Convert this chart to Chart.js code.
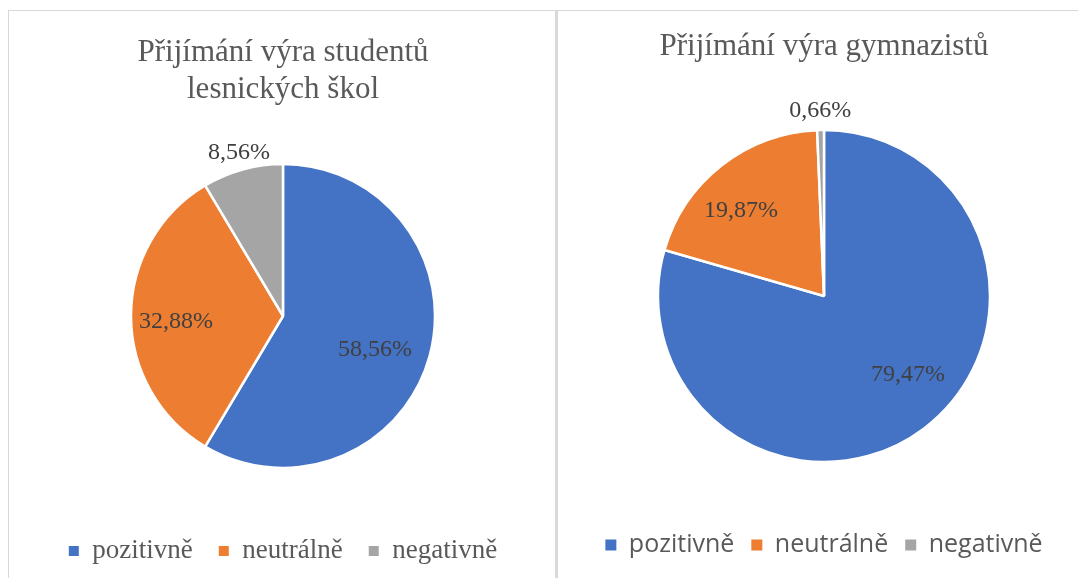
<!DOCTYPE html>
<html>
<head>
<meta charset="utf-8">
<script src="https://cdn.jsdelivr.net/npm/chart.js@4/dist/chart.umd.min.js"></script>
<style>
  html, body { margin: 0; padding: 0; background: #ffffff; }
  #wrap { position: relative; width: 1078px; height: 578px; overflow: hidden; background: #fff; }
  .line { position: absolute; background: #d9d9d9; }
  canvas { position: absolute; }
</style>
</head>
<body>
<div id="wrap">
  <div class="line" style="left:8px; top:10px; width:1070px; height:1px;"></div>
  <div class="line" style="left:8px; top:10px; width:1px; height:568px;"></div>
  <div class="line" style="left:555px; top:10px; width:3px; height:568px;"></div>
  <canvas id="c1" width="546" height="567" style="left:9px; top:11px; width:546px; height:567px;"></canvas>
  <canvas id="c2" width="520" height="567" style="left:558px; top:11px; width:520px; height:567px;"></canvas>
</div>
<script>
const categories = ['pozitivně', 'neutrálně', 'negativně'];
const colors = ['#4472C4', '#ED7D31', '#A5A5A5'];
const titleForestry = ['Přijímání výra studentů', 'lesnických škol'];
const valuesForestry = [58.56, 32.88, 8.56];
const titleGymnasium = 'Přijímání výra gymnazistů';
const valuesGymnasium = [79.47, 19.87, 0.66];

function fmt(v) { return v.toFixed(2).replace('.', ',') + '%'; }

const labelPlugin = {
  id: 'sliceLabels',
  afterDatasetsDraw(chart, args, opts) {
    const ctx = chart.ctx;
    const meta = chart.getDatasetMeta(0);
    const data = chart.data.datasets[0].data;
    ctx.save();
    ctx.font = opts.font;
    ctx.fillStyle = opts.color;
    ctx.textAlign = 'center';
    ctx.textBaseline = 'middle';
    meta.data.forEach((arc, i) => {
      const p = arc.getProps(['x', 'y', 'startAngle', 'endAngle', 'outerRadius'], true);
      const place = opts.place[i];
      const a = (p.startAngle + p.endAngle) / 2 + place[0] * Math.PI / 180;
      const r = p.outerRadius * place[1];
      ctx.fillText(fmt(data[i]), p.x + Math.cos(a) * r, p.y + Math.sin(a) * r);
    });
    ctx.restore();
  }
};

function legendLabels(chart) {
  return Chart.overrides.doughnut.plugins.legend.labels.generateLabels(chart)
    .map(l => Object.assign({}, l, { lineWidth: 0, strokeStyle: 'rgba(0,0,0,0)' }));
}

function makeChart(id, title, values, cfg) {
  return new Chart(document.getElementById(id), {
    type: 'pie',
    data: {
      labels: categories,
      datasets: [{
        data: values,
        backgroundColor: colors,
        borderColor: '#ffffff',
        borderWidth: 2.5,
        radius: cfg.radius
      }]
    },
    options: {
      responsive: false,
      animation: false,
      events: [],
      layout: { padding: cfg.layoutPadding },
      plugins: {
        tooltip: { enabled: false },
        title: {
          display: true,
          text: title,
          color: '#595959',
          font: { family: '"Liberation Serif", "Times New Roman", serif', size: 31, weight: 'normal', lineHeight: 37 / 31 },
          padding: cfg.titlePadding
        },
        legend: {
          display: true,
          position: 'bottom',
          labels: {
            color: '#595959',
            font: cfg.legendFont,
            boxWidth: cfg.box,
            boxHeight: cfg.box,
            padding: cfg.legendPadding,
            generateLabels: legendLabels
          }
        },
        sliceLabels: {
          font: '24px "Liberation Serif", "Times New Roman", serif',
          color: '#404040',
          place: cfg.place
        }
      }
    },
    plugins: [labelPlugin]
  });
}

makeChart('c1', titleForestry, valuesForestry, {
  radius: 152,
  layoutPadding: { left: 2, right: 0, top: 0, bottom: 3.5 },
  titlePadding: { top: 23, bottom: 12.5 },
  legendFont: { family: '"Liberation Serif", "Times New Roman", serif', size: 27 },
  box: 10,
  legendPadding: 26,
  place: [[4.9, 0.645], [-3.2, 0.705], [0.3, 1.11]]
});

makeChart('c2', titleGymnasium, valuesGymnasium, {
  radius: 166,
  layoutPadding: { left: 12, right: 0, top: 0, bottom: 10.5 },
  titlePadding: { top: 17, bottom: 11.5 },
  legendFont: { family: '"Open Sans", "Noto Sans", sans-serif', size: 25 },
  box: 11,
  legendPadding: 17,
  place: [[-9.8, 0.695], [-6.2, 0.716], [0, 1.115]]
});
</script>
</body>
</html>
